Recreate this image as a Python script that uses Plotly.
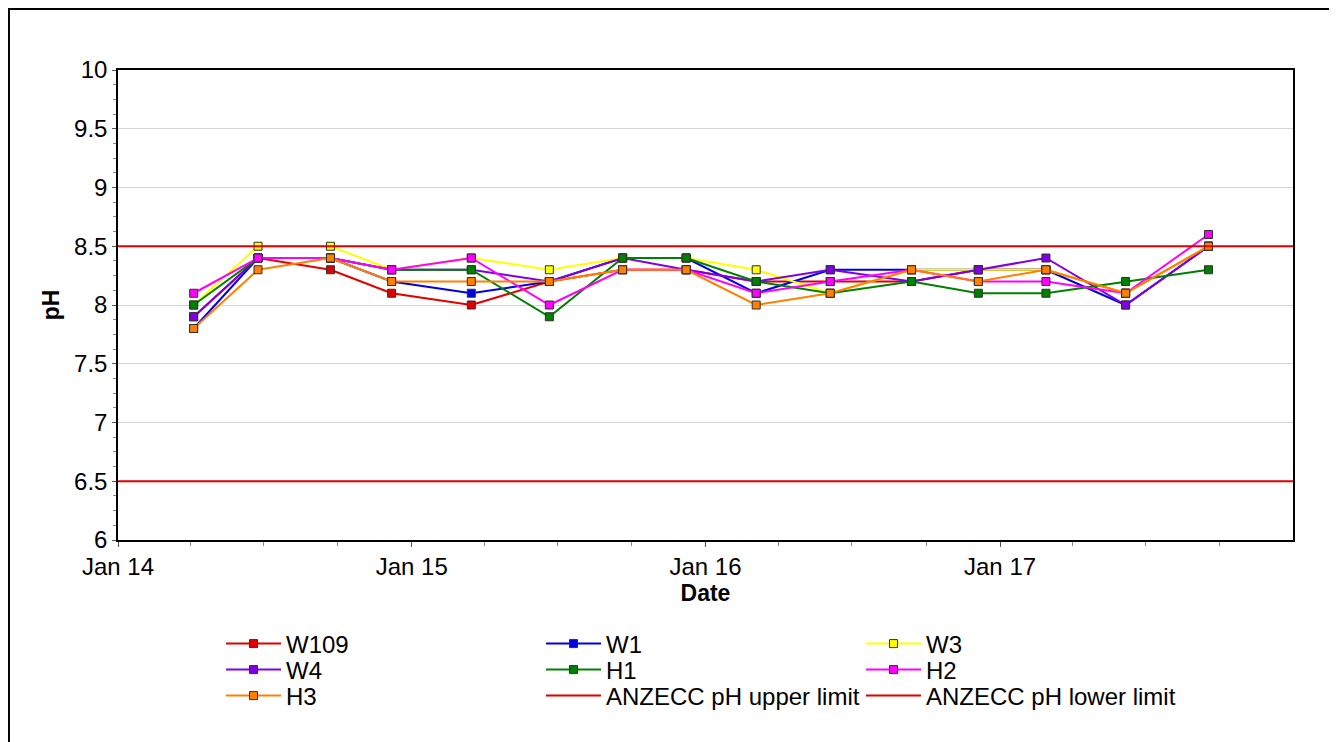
import plotly.graph_objects as go

# sampling dates
dates = ["2014-04-05", "2014-06-24", "2014-09-22", "2014-12-07", "2015-03-16",
         "2015-06-21", "2015-09-20", "2015-12-08", "2016-03-04", "2016-06-04",
         "2016-09-13", "2016-12-05", "2017-02-27", "2017-06-06", "2017-09-17"]

w109 = [7.9, 8.4, 8.3, 8.1, 8.0, 8.2, 8.3, 8.3, 8.2, 8.2, 8.2, 8.3, 8.3, 8.1, 8.5]
w1 = [7.8, 8.4, 8.4, 8.2, 8.1, 8.2, 8.4, 8.4, 8.1, 8.3, 8.3, 8.3, 8.3, 8.0, 8.5]
w3 = [8.0, 8.5, 8.5, 8.3, 8.4, 8.3, 8.4, 8.4, 8.3, 8.1, 8.3, 8.3, 8.3, 8.1, 8.5]
w4 = [7.9, 8.4, 8.4, 8.3, 8.3, 8.2, 8.4, 8.3, 8.2, 8.3, 8.2, 8.3, 8.4, 8.0, 8.5]
h1 = [8.0, 8.4, 8.4, 8.3, 8.3, 7.9, 8.4, 8.4, 8.2, 8.1, 8.2, 8.1, 8.1, 8.2, 8.3]
h2 = [8.1, 8.4, 8.4, 8.3, 8.4, 8.0, 8.3, 8.3, 8.1, 8.2, 8.3, 8.2, 8.2, 8.1, 8.6]
h3 = [7.8, 8.3, 8.4, 8.2, 8.2, 8.2, 8.3, 8.3, 8.0, 8.1, 8.3, 8.2, 8.3, 8.1, 8.5]

upper_limit = 8.5
lower_limit = 6.5

x_range = ["2014-01-01", "2017-12-31"]
y_range = [6, 10]

# name, values, colour, legend row
series = [
    ("W109", w109, "#e00000", "legend"),
    ("W1", w1, "#0000e0", "legend"),
    ("W3", w3, "#ffff00", "legend"),
    ("W4", w4, "#8000e0", "legend2"),
    ("H1", h1, "#008000", "legend2"),
    ("H2", h2, "#ff00ff", "legend2"),
    ("H3", h3, "#ff8000", "legend3"),
]

FONT = "Liberation Sans, Arial, sans-serif"
W, H = 1329, 734   # page body has an 8px margin

fig = go.Figure()
for name, vals, col, leg in series:
    fig.add_trace(go.Scatter(
        x=dates, y=vals, name=name, mode="lines+markers", legend=leg,
        line=dict(color=col, width=2),
        marker=dict(symbol="square", size=8, color=col,
                    line=dict(color="#303030", width=1)),
    ))

# ANZECC limits across the whole axis
fig.add_trace(go.Scatter(x=x_range, y=[upper_limit] * 2, mode="lines",
                         name="ANZECC pH upper limit", legend="legend3",
                         line=dict(color="#e00000", width=2)))
fig.add_trace(go.Scatter(x=x_range, y=[lower_limit] * 2, mode="lines",
                         name="ANZECC pH lower limit", legend="legend3",
                         line=dict(color="#e00000", width=2)))

# outer frame round the whole picture
fig.add_shape(type="rect", xref="paper", yref="paper",
              x0=-0.0928, x1=1.0323, y0=-0.5, y1=1.1298,
              line=dict(color="black", width=2))

leg_style = dict(orientation="h", xref="container", yref="container",
                 x=213 / W, xanchor="left", yanchor="middle",
                 entrywidth=250, entrywidthmode="pixels", itemwidth=55,
                 font=dict(family=FONT, size=24), bgcolor="rgba(0,0,0,0)")

fig.update_layout(
    width=W, height=H,
    margin=dict(l=110, r=44, t=62, b=202, autoexpand=False),
    paper_bgcolor="white", plot_bgcolor="white",
    font=dict(family=FONT, size=24, color="black"),
    showlegend=True,
    legend=dict(leg_style, y=1 - 636 / H),
    legend2=dict(leg_style, y=1 - 662 / H),
    legend3=dict(leg_style, y=1 - 688 / H),
    xaxis=dict(
        type="date", range=x_range, tick0="2014-01-01", dtick="M12",
        tickformat="%b %y", ticks="outside", ticklen=5, tickcolor="#555",
        ticklabelstandoff=-1,
        showgrid=False, zeroline=False,
        showline=True, linecolor="black", linewidth=1.5, mirror=True,
        minor=dict(dtick="M3", ticks="outside", ticklen=4, tickcolor="#888"),
        title=dict(text="<b>Date</b>", font=dict(size=23), standoff=0),
    ),
    yaxis=dict(
        range=y_range, dtick=0.5, ticks="outside", ticklen=4, tickcolor="#555",
        showgrid=True, gridcolor="#d4d4d4", gridwidth=1, zeroline=False,
        showline=True, linecolor="black", linewidth=1.5, mirror=True,
        minor=dict(dtick=0.125, ticks="outside", ticklen=3, tickcolor="#888"),
        title=dict(text="<b>pH</b>", font=dict(size=23), standoff=8),
    ),
)

fig.write_html("out.html")
